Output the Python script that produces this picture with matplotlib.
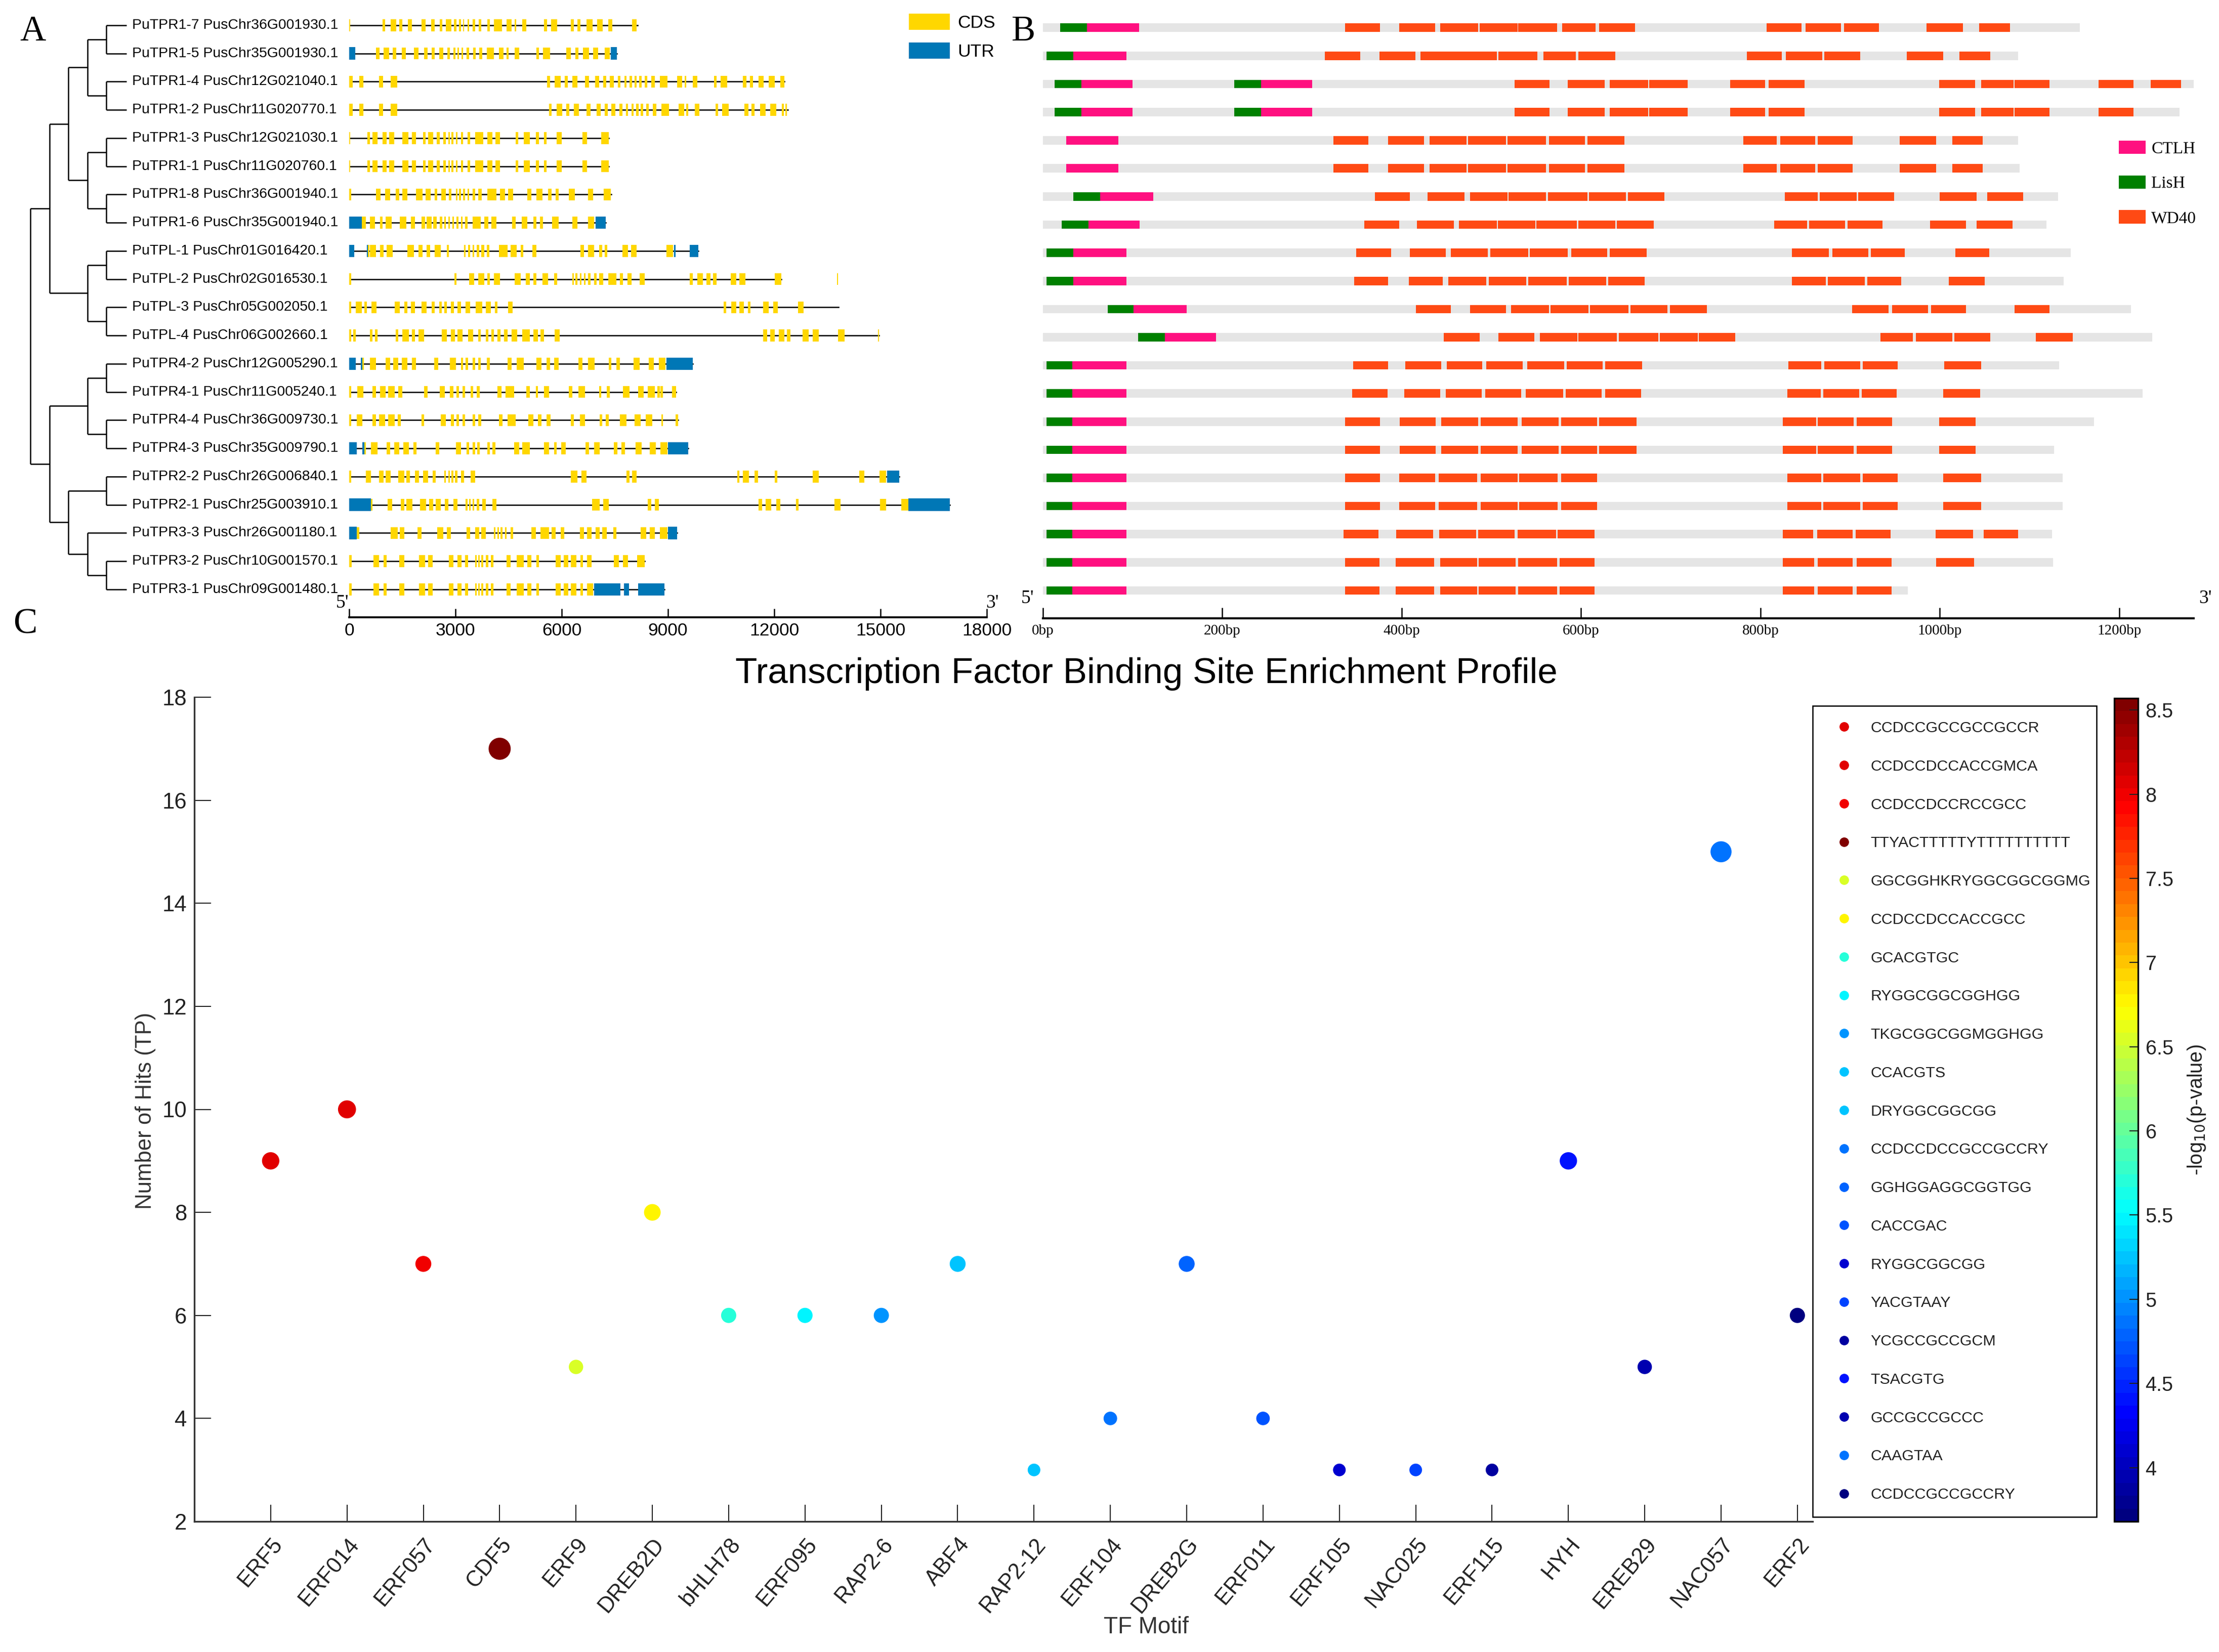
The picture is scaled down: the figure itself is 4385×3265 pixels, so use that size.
import numpy as np
import matplotlib.pyplot as plt
from matplotlib.colors import LinearSegmentedColormap
from matplotlib.patches import Patch
from matplotlib.lines import Line2D
from matplotlib.transforms import ScaledTranslation
from matplotlib.ticker import FormatStrFormatter

plt.rcParams['font.family'] = ['Liberation Sans', 'DejaVu Sans']
SERIF = ['Liberation Serif', 'DejaVu Serif']

# ---------------- panel A: gene structures ----------------
gene_names = ["PuTPR1-7 PusChr36G001930.1", "PuTPR1-5 PusChr35G001930.1",
              "PuTPR1-4 PusChr12G021040.1", "PuTPR1-2 PusChr11G020770.1",
              "PuTPR1-3 PusChr12G021030.1", "PuTPR1-1 PusChr11G020760.1",
              "PuTPR1-8 PusChr36G001940.1", "PuTPR1-6 PusChr35G001940.1",
              "PuTPL-1 PusChr01G016420.1", "PuTPL-2 PusChr02G016530.1",
              "PuTPL-3 PusChr05G002050.1", "PuTPL-4 PusChr06G002660.1",
              "PuTPR4-2 PusChr12G005290.1", "PuTPR4-1 PusChr11G005240.1",
              "PuTPR4-4 PusChr36G009730.1", "PuTPR4-3 PusChr35G009790.1",
              "PuTPR2-2 PusChr26G006840.1", "PuTPR2-1 PusChr25G003910.1",
              "PuTPR3-3 PusChr26G001180.1", "PuTPR3-2 PusChr10G001570.1",
              "PuTPR3-1 PusChr09G001480.1"]

gene_len = [8140, 7555, 12290, 12385, 7330, 7330, 7400, 7240, 9850, 12200, 13820,
            14950, 9705, 9235, 9280, 9565, 15535, 16955, 9260, 8340, 8905]

# dendrogram: (branch depth, left, right); integers are leaf rows
tree = (0,
        (1,
         (2,
          (3, (4, 0, 1), (4, 2, 3)),
          (3, (4, 4, 5), (4, 6, 7))),
         (3, (4, 8, 9), (4, 10, 11))),
        (1,
         (3, (4, 12, 13), (4, 14, 15)),
         (2, (4, 16, 17), (3, 18, (4, 19, 20)))))
leaf_depth = 5.05

gene_cds = [
    [(0, 35), (940, 1020), (1175, 1330), (1420, 1500), (1655, 1775), (2045, 2150), (2315, 2410),
     (2550, 2630), (2725, 2880), (2960, 3030), (3100, 3150), (3210, 3240), (3340, 3385),
     (3490, 3560), (3655, 3735), (3900, 3970), (4090, 4310), (4440, 4580), (4665, 4710),
     (4890, 5005), (5500, 5580), (5700, 5875), (6250, 6345), (6440, 6535), (6700, 6875),
     (7000, 7155), (7320, 7425), (7980, 8120)],
    [(750, 860), (965, 1130), (1235, 1330), (1480, 1600), (1835, 1950), (2115, 2210), (2325, 2410),
     (2540, 2655), (2775, 2845), (2940, 3000), (3055, 3100), (3170, 3220), (3315, 3385),
     (3500, 3570), (3665, 3760), (3880, 4090), (4230, 4350), (4440, 4500), (4675, 4795),
     (5290, 5360), (5475, 5665), (6135, 6250), (6380, 6465), (6605, 6770), (6885, 7025),
     (7215, 7355)],
    [(0, 95), (280, 400), (845, 950), (1175, 1350), (5590, 5675), (5805, 5970), (6085, 6170),
     (6300, 6440), (6650, 6770), (6945, 7050), (7170, 7260), (7355, 7475), (7590, 7660),
     (7765, 7825), (7920, 7990), (8060, 8120), (8180, 8250), (8340, 8410), (8530, 8625),
     (8765, 8990), (9260, 9400), (9470, 9520), (9705, 9835), (10295, 10375), (10490, 10670),
     (11115, 11220), (11315, 11400), (11550, 11700), (11845, 12010), (12175, 12280)],
    [(0, 95), (280, 400), (845, 950), (1175, 1350), (5640, 5720), (5850, 6015), (6130, 6215),
     (6345, 6485), (6700, 6815), (6990, 7095), (7215, 7305), (7400, 7520), (7635, 7710),
     (7810, 7870), (7965, 8035), (8105, 8165), (8225, 8295), (8390, 8460), (8575, 8670),
     (8810, 9035), (9305, 9450), (9520, 9565), (9750, 9880), (10340, 10420), (10535, 10715),
     (11160, 11265), (11360, 11445), (11595, 11750), (11890, 12055), (12220, 12265),
     (12315, 12360)],
    [(0, 25), (515, 590), (660, 800), (940, 1060), (1130, 1270), (1505, 1670), (1765, 1880),
     (2090, 2160), (2235, 2375), (2465, 2560), (2655, 2725), (2795, 2845), (2890, 2940),
     (3010, 3055), (3150, 3220), (3340, 3410), (3560, 3785), (3900, 4040), (4135, 4255),
     (4700, 4770), (4935, 5100), (5265, 5360), (5500, 5570), (5850, 6005), (6580, 6720),
     (7120, 7330)],
    [(0, 25), (515, 590), (660, 800), (940, 1060), (1130, 1270), (1505, 1670), (1765, 1880),
     (2090, 2160), (2235, 2375), (2465, 2560), (2655, 2725), (2795, 2845), (2890, 2940),
     (3010, 3055), (3150, 3220), (3340, 3410), (3560, 3785), (3900, 4040), (4135, 4255),
     (4700, 4770), (4935, 5100), (5265, 5360), (5500, 5570), (5850, 6005), (6580, 6720),
     (7120, 7330)],
    [(0, 50), (750, 890), (1010, 1150), (1315, 1410), (1505, 1645), (1880, 2070), (2150, 2300),
     (2420, 2490), (2595, 2725), (2820, 2890), (3010, 3055), (3100, 3150), (3220, 3265),
     (3340, 3385), (3480, 3550), (3645, 3740), (3900, 4160), (4255, 4395), (4490, 4630),
     (5030, 5145), (5285, 5450), (5615, 5710), (5825, 5920), (6200, 6365), (6745, 6885),
     (7190, 7380)],
    [(355, 470), (590, 730), (870, 940), (1035, 1200), (1435, 1620), (1740, 1855), (2045, 2140),
     (2185, 2325), (2375, 2465), (2560, 2630), (2680, 2725), (2795, 2845), (2915, 2960),
     (3030, 3080), (3150, 3195), (3265, 3340), (3480, 3715), (3810, 3925), (4020, 4160),
     (4605, 4700), (4865, 5030), (5195, 5290), (5385, 5475), (5735, 5920), (6300, 6440),
     (6745, 6910)],
    [(525, 565), (590, 750), (870, 965), (1060, 1225), (1645, 1835), (1950, 2070), (2185, 2280),
     (2420, 2585), (2750, 2820), (3240, 3290), (3360, 3410), (3480, 3525), (3595, 3665),
     (3735, 3810), (3880, 3950), (4230, 4465), (4560, 4725), (4840, 4910), (5170, 5290),
     (6535, 6630), (6745, 6910), (7050, 7145), (7215, 7285), (7710, 7870), (7960, 8110),
     (8955, 9140)],
    [(0, 50), (2975, 3030), (3385, 3525), (3640, 3810), (3900, 3970), (4090, 4255), (4675, 4840),
     (4980, 5100), (5195, 5290), (5450, 5615), (5780, 5875), (6300, 6345), (6390, 6440),
     (6510, 6560), (6625, 6675), (6745, 6815), (6910, 6980), (7050, 7170), (7310, 7545),
     (7640, 7730), (7850, 7965), (8200, 8340), (9610, 9705), (9825, 9990), (10085, 10200),
     (10275, 10365), (10765, 10930), (11020, 11185), (12010, 12200), (13770, 13800)],
    [(0, 50), (190, 355), (425, 495), (635, 775), (1290, 1435), (1550, 1645), (1740, 1855),
     (2045, 2185), (2325, 2420), (2540, 2610), (2680, 2750), (2870, 2960), (3055, 3150),
     (3290, 3410), (3570, 3760), (3855, 3995), (4110, 4180), (4490, 4610), (10575, 10645),
     (10790, 10930), (11020, 11140), (11255, 11325), (11680, 11845), (11965, 12105),
     (12665, 12830)],
    [(0, 50), (120, 190), (590, 660), (730, 800), (1315, 1385), (1505, 1690), (1765, 1855),
     (1950, 2115), (2610, 2750), (2870, 2985), (3055, 3195), (3360, 3500), (3640, 3710),
     (3855, 3925), (4020, 4090), (4180, 4275), (4370, 4465), (4580, 4745), (4890, 5100),
     (5195, 5335), (5405, 5500), (5805, 5945), (11680, 11795), (11890, 12010), (12125, 12290),
     (12360, 12455), (12805, 12970), (13090, 13255), (13795, 13985), (14925, 14950)],
    [(375, 420), (590, 750), (1035, 1150), (1245, 1385), (1480, 1645), (1765, 1880), (2400, 2515),
     (2845, 3010), (3150, 3220), (3290, 3360), (3480, 3550), (3645, 3715), (3880, 3970),
     (4465, 4585), (4725, 4935), (5290, 5430), (5570, 5665), (5780, 5920), (6465, 6580),
     (6745, 6935), (7335, 7405), (7545, 7640), (8035, 8200), (8460, 8600), (8740, 8930)],
    [(0, 50), (235, 400), (660, 750), (870, 1035), (1105, 1290), (1385, 1505), (2115, 2210),
     (2560, 2700), (2845, 2940), (3030, 3100), (3195, 3265), (3430, 3500), (3595, 3690),
     (4180, 4300), (4420, 4655), (5005, 5100), (5265, 5335), (5500, 5640), (6205, 6300),
     (6465, 6650), (7050, 7120), (7265, 7355), (7730, 7920), (8155, 8320), (8435, 8625),
     (8695, 8765), (8790, 8860), (9120, 9235)],
    [(0, 50), (210, 375), (660, 750), (845, 1010), (1105, 1290), (1365, 1460), (2045, 2115),
     (2585, 2725), (2870, 2960), (3030, 3100), (3195, 3265), (3480, 3550), (3645, 3735),
     (4230, 4325), (4465, 4700), (5050, 5195), (5335, 5430), (5570, 5690), (6250, 6345),
     (6510, 6650), (7075, 7145), (7240, 7335), (7640, 7825), (8060, 8225), (8365, 8555),
     (8815, 8860), (9215, 9280)],
    [(425, 470), (610, 800), (1060, 1150), (1270, 1410), (1530, 1690), (1810, 1905), (2445, 2540),
     (3010, 3150), (3315, 3385), (3480, 3550), (3620, 3690), (3900, 3970), (4040, 4135),
     (4655, 4795), (4890, 5100), (5500, 5640), (5780, 5850), (5990, 6110), (6675, 6770),
     (6910, 7075), (7475, 7570), (7685, 7780), (8085, 8250), (8485, 8650), (8790, 8980)],
    [(0, 50), (470, 610), (845, 965), (1035, 1175), (1385, 1550), (1620, 1715), (1855, 1975),
     (2090, 2235), (2350, 2445), (2680, 2725), (2795, 2845), (2890, 2940), (2985, 3055),
     (3150, 3240), (3430, 3550), (6250, 6440), (6560, 6700), (7825, 7920), (7990, 8110),
     (10950, 11020), (11115, 11280), (11445, 11540), (12010, 12080), (13090, 13255),
     (14405, 14545), (14970, 15160)],
    [(610, 660), (1080, 1220), (1460, 1550), (1620, 1785), (2000, 2165), (2255, 2375),
     (2445, 2585), (2700, 2795), (2940, 3055), (3290, 3340), (3385, 3430), (3480, 3525),
     (3595, 3665), (3760, 3855), (4040, 4160), (6860, 7075), (7170, 7335), (8435, 8530),
     (8625, 8740), (11560, 11655), (11750, 11915), (12055, 12175), (12620, 12690),
     (13700, 13865), (14990, 15160), (15580, 15790)],
    [(210, 280), (1175, 1365), (1435, 1550), (1925, 2045), (2490, 2655), (2750, 2870),
     (3315, 3410), (3550, 3665), (3735, 3855), (4090, 4135), (4180, 4230), (4275, 4325),
     (4395, 4440), (4560, 4630), (5145, 5265), (5405, 5640), (5710, 5830), (5970, 6065),
     (6510, 6625), (6720, 6840), (6955, 7075), (7145, 7265), (7450, 7545), (8225, 8390),
     (8485, 8625), (8765, 8980)],
    [(0, 70), (680, 845), (965, 1060), (1410, 1550), (1975, 2140), (2235, 2350), (2820, 2940),
     (3055, 3175), (3265, 3360), (3550, 3595), (3640, 3690), (3735, 3785), (3855, 3925),
     (3995, 4065), (4440, 4560), (4725, 4935), (5030, 5145), (5290, 5360), (5830, 5970),
     (6060, 6180), (6250, 6415), (6535, 6605), (6720, 6840), (7475, 7615), (7730, 7870),
     (8130, 8340)],
    [(0, 70), (680, 845), (965, 1060), (1410, 1550), (1975, 2140), (2235, 2350), (2820, 2940),
     (3055, 3175), (3265, 3360), (3550, 3595), (3640, 3690), (3735, 3785), (3855, 3925),
     (3995, 4065), (4440, 4560), (4725, 4935), (5030, 5145), (5290, 5360), (5830, 5970),
     (6060, 6180), (6250, 6415), (6535, 6605), (6720, 6885)],
]

gene_utr = [
    [], [(0, 175), (7380, 7555)], [], [], [], [], [],
    [(0, 350), (6955, 7240)],
    [(0, 140), (495, 525), (9165, 9210), (9610, 9850)],
    [], [], [],
    [(0, 190), (330, 375), (8955, 9705)],
    [], [],
    [(0, 210), (375, 425), (9000, 9565)],
    [(15180, 15535)],
    [(0, 610), (15790, 16955)],
    [(0, 210), (9000, 9260)],
    [],
    [(6910, 7660), (7755, 7900), (8155, 8905)],
]

# ---------------- panel B: protein domains ----------------
prot_len = [1156, 1087, 1283, 1267, 1087, 1089, 1132, 1119, 1146, 1138, 1213, 1237,
            1133, 1226, 1172, 1127, 1137, 1137, 1125, 1126, 964]

dom_lish = [[(19, 49)], [(4, 34)], [(13, 43), (213, 243)], [(13, 43), (213, 243)], [], [],
            [(34, 64)], [(21, 51)], [(4, 34)], [(4, 34)], [(72, 101)], [(106, 136)],
            [(4, 33)], [(4, 33)], [(4, 33)], [(4, 33)], [(4, 33)], [(4, 33)], [(4, 33)],
            [(4, 33)], [(4, 33)]]

dom_ctlh = [[(49, 107)], [(34, 93)], [(43, 100), (243, 300)], [(43, 100), (243, 300)],
            [(26, 84)], [(26, 84)], [(64, 123)], [(51, 108)], [(34, 93)], [(34, 93)],
            [(101, 160)], [(136, 193)],
            [(33, 93)], [(33, 93)], [(33, 93)], [(33, 93)], [(33, 93)], [(33, 93)], [(33, 93)],
            [(33, 93)], [(33, 93)]]

dom_wd40 = [
    [(337, 376), (397, 437), (443, 485), (487, 529), (530, 573), (579, 616), (620, 660),
     (807, 846), (850, 890), (893, 932), (985, 1026), (1044, 1078)],
    [(314, 354), (375, 415), (421, 464), (464, 506), (508, 551), (558, 594), (597, 638),
     (785, 824), (828, 869), (871, 911), (963, 1004), (1022, 1056)],
    [(526, 565), (585, 626), (632, 675), (676, 719), (766, 805), (809, 849), (999, 1039),
     (1046, 1082), (1083, 1122), (1177, 1216), (1235, 1269)],
    [(526, 565), (585, 626), (632, 675), (676, 719), (766, 805), (809, 849), (999, 1039),
     (1046, 1082), (1083, 1122), (1177, 1216)],
    [(324, 363), (385, 425), (431, 472), (474, 516), (518, 561), (564, 604), (607, 648),
     (781, 818), (822, 861), (864, 903), (955, 996), (1014, 1048)],
    [(324, 363), (385, 425), (431, 472), (474, 516), (518, 561), (564, 604), (607, 648),
     (781, 818), (822, 861), (864, 903), (955, 996), (1014, 1048)],
    [(370, 409), (429, 470), (476, 518), (519, 561), (563, 607), (609, 650), (652, 693),
     (827, 864), (866, 907), (909, 949), (1000, 1041), (1053, 1093)],
    [(358, 397), (417, 458), (464, 506), (507, 549), (550, 595), (597, 638), (640, 681),
     (815, 852), (854, 894), (897, 936), (989, 1029), (1041, 1081)],
    [(349, 388), (409, 449), (455, 496), (499, 541), (543, 585), (589, 629), (632, 673),
     (835, 876), (880, 920), (923, 961), (1017, 1055)],
    [(347, 385), (408, 446), (452, 494), (497, 539), (541, 584), (586, 628), (630, 671),
     (835, 873), (875, 916), (919, 957), (1010, 1050)],
    [(416, 455), (476, 516), (522, 564), (566, 608), (610, 653), (655, 696), (699, 740),
     (902, 943), (947, 987), (990, 1029), (1083, 1122)],
    [(447, 487), (508, 548), (554, 596), (597, 640), (642, 686), (688, 730), (731, 772),
     (934, 970), (973, 1014), (1016, 1056), (1107, 1148)],
    [(346, 385), (404, 444), (450, 490), (494, 535), (540, 581), (584, 624), (627, 668),
     (831, 868), (871, 911), (914, 953), (1005, 1046)],
    [(345, 384), (403, 443), (449, 489), (493, 533), (538, 580), (583, 623), (627, 667),
     (830, 867), (870, 910), (913, 952), (1004, 1045)],
    [(337, 376), (398, 438), (444, 485), (488, 529), (534, 575), (578, 618), (620, 662),
     (825, 862), (864, 904), (907, 947), (999, 1040)],
    [(337, 376), (398, 438), (444, 485), (488, 529), (534, 575), (578, 618), (620, 662),
     (825, 862), (864, 904), (907, 947), (999, 1040)],
    [(337, 376), (397, 437), (441, 484), (488, 529), (531, 574), (578, 618),
     (830, 868), (870, 911), (914, 953), (1004, 1046)],
    [(337, 376), (397, 437), (441, 484), (488, 529), (531, 574), (578, 618),
     (830, 868), (870, 911), (914, 953), (1004, 1046)],
    [(335, 374), (394, 435), (442, 483), (485, 526), (529, 572), (574, 615),
     (825, 859), (863, 903), (906, 945), (995, 1037), (1049, 1087)],
    [(337, 375), (393, 436), (443, 484), (486, 527), (530, 573), (576, 615),
     (825, 860), (864, 903), (907, 946), (996, 1038)],
    [(337, 375), (393, 436), (443, 484), (486, 527), (530, 573), (576, 615),
     (825, 860), (864, 903), (907, 946)],
]

# ---------------- panel C: TF binding sites ----------------
tf_motifs = ['ERF5', 'ERF014', 'ERF057', 'CDF5', 'ERF9', 'DREB2D', 'bHLH78', 'ERF095',
             'RAP2-6', 'ABF4', 'RAP2-12', 'ERF104', 'DREB2G', 'ERF011', 'ERF105', 'NAC025',
             'ERF115', 'HYH', 'EREB29', 'NAC057', 'ERF2']
tf_hits = [9, 10, 7, 17, 5, 8, 6, 6, 6, 7, 3, 4, 7, 4, 3, 3, 3, 9, 5, 15, 6]
tf_logp = [8.05, 8.1, 8.0, 8.57, 6.55, 6.8, 5.7, 5.48, 5.03, 5.27, 5.21, 4.87, 4.78, 4.7,
           4.12, 4.66, 3.88, 4.44, 3.93, 4.85, 3.68]
tf_seqs = ['CCDCCGCCGCCGCCR', 'CCDCCDCCACCGMCA', 'CCDCCDCCRCCGCC', 'TTYACTTTTTYTTTTTTTTTT',
           'GGCGGHKRYGGCGGCGGMG', 'CCDCCDCCACCGCC', 'GCACGTGC', 'RYGGCGGCGGHGG',
           'TKGCGGCGGMGGHGG', 'CCACGTS', 'DRYGGCGGCGG', 'CCDCCDCCGCCGCCRY', 'GGHGGAGGCGGTGG',
           'CACCGAC', 'RYGGCGGCGG', 'YACGTAAY', 'YCGCCGCCGCM', 'TSACGTG', 'GCCGCCGCCC',
           'CAAGTAA', 'CCDCCGCCGCCRY']

CDS_C = '#FFD700'
UTR_C = '#0077B6'
LISH_C = '#008000'
CTLH_C = '#FF1080'
WD40_C = '#FF4A14'
BAR_C = '#E5E5E5'

W, H = 4385, 3265
fig = plt.figure(figsize=(W / 300, H / 300), dpi=300)


def add_ax(left, top, right, bottom):
    # box given in pixels of the reference image
    return fig.add_axes([left / W, 1 - bottom / H, (right - left) / W, (bottom - top) / H])


def ftext(px, py, s, **kw):
    return fig.text(px / W, 1 - py / H, s, **kw)


# ---- tree + names ----
axt = add_ax(0, 22, 690, 1220)
axt.set_xlim(-1.596, 16.755)
axt.set_ylim(20.99, -0.5)
axt.axis('off')


def draw_node(node, parent=None):
    if isinstance(node, int):
        x, y = leaf_depth, node
    else:
        d, a, b = node
        ya = draw_node(a, d)
        yb = draw_node(b, d)
        axt.plot([d, d], [ya, yb], color='black', lw=0.6, solid_capstyle='butt')
        x, y = d, (ya + yb) / 2
    if parent is not None:
        axt.plot([parent, x], [y, y], color='black', lw=0.6, solid_capstyle='butt')
    return y


draw_node(tree)
for i, name in enumerate(gene_names):
    axt.text(leaf_depth + 0.29, i, name, fontsize=6.8, va='center', ha='left')

# ---- gene models ----
axg = add_ax(690, 22, 1950, 1220)
axg.set_xlim(0, 18000)
axg.set_ylim(20.99, -0.5)
for i in range(len(gene_names)):
    axg.plot([0, gene_len[i]], [i, i], color='black', lw=0.6, zorder=1)
    axg.broken_barh([(s, e - s) for s, e in gene_cds[i]], (i - 0.21, 0.42),
                    facecolors=CDS_C, edgecolor='none', zorder=2)
    if gene_utr[i]:
        axg.broken_barh([(s, e - s) for s, e in gene_utr[i]], (i - 0.22, 0.44),
                        facecolors=UTR_C, edgecolor='none', zorder=3)
for sp in ['top', 'right', 'left']:
    axg.spines[sp].set_visible(False)
axg.spines['bottom'].set_linewidth(0.9)
axg.set_yticks([])
axg.set_xticks(np.arange(0, 18001, 3000))
axg.tick_params(axis='x', direction='in', length=4, width=0.6, labelsize=8.5, pad=2.5)
ftext(677, 1209, "5'", fontsize=9, family=SERIF, ha='center', va='bottom')
ftext(1961, 1209, "3'", fontsize=9, family=SERIF, ha='center', va='bottom')

fig.legend(handles=[Patch(fc=CDS_C, ec='none', label='CDS'),
                    Patch(fc=UTR_C, ec='none', label='UTR')],
           loc='upper left', bbox_to_anchor=(1796 / W, 1 - 27 / H), frameon=False,
           fontsize=8.5, handlelength=2.3, handleheight=1.02, handletextpad=0.42,
           labelspacing=0.62, borderpad=0, borderaxespad=0)

# ---- protein domains ----
axp = add_ax(2061, 27, 4335, 1222)
axp.set_xlim(0, 1283)
axp.set_ylim(20.99, -0.5)
rows = np.arange(len(prot_len))
axp.barh(rows, prot_len, height=0.3, color=BAR_C, zorder=1)
for i in rows:
    for doms, col in ((dom_lish[i], LISH_C), (dom_ctlh[i], CTLH_C), (dom_wd40[i], WD40_C)):
        if doms:
            axp.broken_barh([(s, e - s) for s, e in doms], (i - 0.15, 0.3),
                            facecolors=col, edgecolor='none', zorder=2)
for sp in ['top', 'right', 'left']:
    axp.spines[sp].set_visible(False)
axp.spines['bottom'].set_linewidth(1.0)
axp.set_yticks([])
bp_ticks = np.arange(0, 1201, 200)
axp.set_xticks(bp_ticks)
axp.set_xticklabels([f'{t}bp' for t in bp_ticks], family=SERIF)
axp.tick_params(axis='x', direction='in', length=5, width=0.6, labelsize=7, pad=3)
ftext(2030, 1200, "5'", fontsize=9, family=SERIF, ha='center', va='bottom')
ftext(4358, 1200, "3'", fontsize=9, family=SERIF, ha='center', va='bottom')

fig.legend(handles=[Patch(fc=CTLH_C, ec='none', label='CTLH'),
                    Patch(fc=LISH_C, ec='none', label='LisH'),
                    Patch(fc=WD40_C, ec='none', label='WD40')],
           loc='upper left', bbox_to_anchor=(4187 / W, 1 - 278 / H), frameon=False,
           prop={'family': SERIF, 'size': 8}, handlelength=1.6, handleheight=0.84,
           handletextpad=0.33, labelspacing=1.11, borderpad=0, borderaxespad=0)

# ---- panel letters ----
ftext(65, 62, 'A', fontsize=17, family=SERIF, ha='center', va='center')
ftext(2023, 62, 'B', fontsize=17, family=SERIF, ha='center', va='center')
ftext(50, 1234, 'C', fontsize=17, family=SERIF, ha='center', va='center')

# ---- panel C scatter ----
jet_m = LinearSegmentedColormap('jet_m', {
    'red': [(0, 0, 0), (0.375, 0, 0), (0.625, 1, 1), (0.875, 1, 1), (1, 0.5, 0.5)],
    'green': [(0, 0, 0), (0.125, 0, 0), (0.375, 1, 1), (0.625, 1, 1), (0.875, 0, 0), (1, 0, 0)],
    'blue': [(0, 0.5, 0.5), (0.125, 1, 1), (0.375, 1, 1), (0.625, 0, 0), (1, 0, 0)]}, N=64)

axc = add_ax(384, 1378, 3582, 3007)
xpos = np.arange(1, len(tf_motifs) + 1)
hits = np.array(tf_hits)
vmin, vmax = min(tf_logp), max(tf_logp)
sc = axc.scatter(xpos, hits, s=20 + 5.3 * hits, c=tf_logp, cmap=jet_m, vmin=vmin, vmax=vmax,
                 linewidths=0, zorder=3)
axc.set_xlim(0, 21.2)
axc.set_ylim(2, 18)
axc.set_yticks(np.arange(2, 19, 2))
axc.set_xticks(xpos)
axc.set_xticklabels(tf_motifs, rotation=50, ha='right', rotation_mode='anchor')
for lbl in axc.get_xticklabels():
    lbl.set_transform(lbl.get_transform() + ScaledTranslation(5 / 72, 0, fig.dpi_scale_trans))
axc.tick_params(axis='both', direction='in', length=8, width=0.5, labelsize=10.5,
                colors='#222222')
axc.tick_params(axis='x', pad=6)
for sp in ['top', 'right']:
    axc.spines[sp].set_visible(False)
for sp in ['left', 'bottom']:
    axc.spines[sp].set_linewidth(0.8)
    axc.spines[sp].set_color('#333333')

ftext(2265, 1332, 'Transcription Factor Binding Site Enrichment Profile', fontsize=17,
      ha='center', va='center')
ftext(2265, 3216, 'TF Motif', fontsize=11, ha='center', va='center', color='#333333')
ftext(288, 2195, 'Number of Hits (TP)', fontsize=10.5, ha='center', va='center',
      rotation=90, color='#333333')

norm = plt.Normalize(vmin, vmax)
handles = [Line2D([], [], ls='none', marker='o', ms=4.5, mfc=jet_m(norm(v)), mec='none', label=s)
           for v, s in zip(tf_logp, tf_seqs)]
leg = fig.legend(handles=handles, loc='upper left',
                 bbox_to_anchor=(3582 / W, 1 - 1395 / H, (4143 - 3582) / W, 0),
                 mode='expand', fontsize=7.3, handlelength=2.1, handletextpad=0.66,
                 borderpad=0.99, labelspacing=1.57, borderaxespad=0, fancybox=False,
                 framealpha=1, edgecolor='black', numpoints=1)
leg.get_frame().set_linewidth(0.6)
for t in leg.get_texts():
    t.set_color('#222222')

cax = add_ax(4178, 1380, 4225, 3007)
cb = fig.colorbar(sc, cax=cax)
cb.set_ticks(np.arange(4, 8.51, 0.5))
cb.ax.yaxis.set_major_formatter(FormatStrFormatter('%g'))
cb.ax.tick_params(direction='in', length=4, width=0.5, labelsize=9.5, colors='#222222')
cb.outline.set_linewidth(0.8)
cb.set_label('-log$_{10}$(p-value)', fontsize=9.5, labelpad=6, color='#222222')

fig.savefig('out.png', dpi=300)
